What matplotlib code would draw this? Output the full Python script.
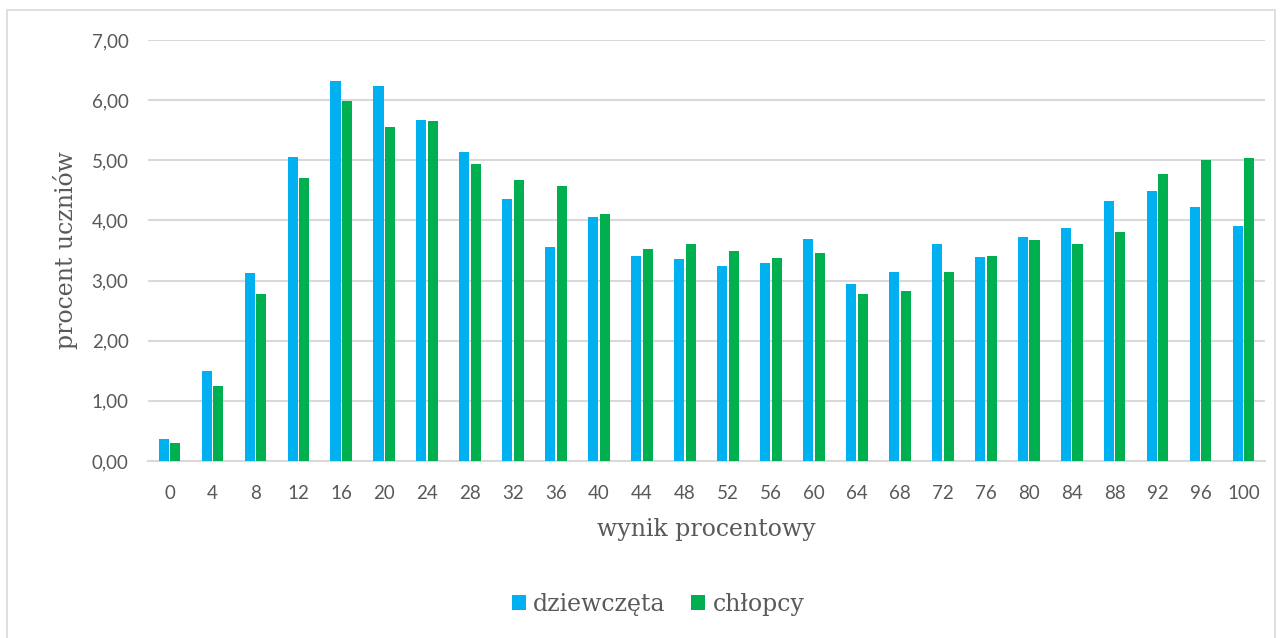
import numpy as np
import matplotlib.pyplot as plt
from matplotlib.patches import Rectangle

# wynik procentowy (x categories)
wyniki = [0, 4, 8, 12, 16, 20, 24, 28, 32, 36, 40, 44, 48, 52, 56, 60,
          64, 68, 72, 76, 80, 84, 88, 92, 96, 100]

dziewczeta = [0.36, 1.49, 3.13, 5.06, 6.31, 6.23, 5.67, 5.13, 4.35, 3.55,
              4.05, 3.41, 3.36, 3.24, 3.30, 3.69, 2.95, 3.14, 3.61, 3.39,
              3.73, 3.87, 4.33, 4.49, 4.22, 3.91]
chlopcy = [0.30, 1.24, 2.77, 4.71, 5.99, 5.56, 5.65, 4.93, 4.67, 4.57,
           4.11, 3.52, 3.60, 3.50, 3.38, 3.46, 2.78, 2.82, 3.14, 3.41,
           3.67, 3.60, 3.80, 4.78, 5.00, 5.04]

blue = '#00B0F0'
green = '#00B050'
grid_col = '#D9D9D9'
txt_col = '#595959'
serif = 'DejaVu Serif'

fig = plt.figure(figsize=(12.82, 6.38), dpi=100)
ax = fig.add_axes([148 / 1282, 1 - 461 / 638, (1265 - 148) / 1282, (461 - 40) / 638])

# outer chart border
fig.patches.append(Rectangle((7 / 1282, -0.01), 1268 / 1282, 1 - 10 / 638 + 0.01,
                             transform=fig.transFigure, fill=False,
                             edgecolor='#D9D9D9', lw=1.2))

x = np.arange(len(wyniki))
w = 0.235
ax.bar(x - 0.135, dziewczeta, w, color=blue, label='dziewczęta', zorder=3)
ax.bar(x + 0.135, chlopcy, w, color=green, label='chłopcy', zorder=3)

ax.set_xlim(-0.5, len(wyniki) - 0.5)
ax.set_ylim(0, 7)
ax.set_yticks(np.arange(0, 8, 1))
ax.set_yticklabels([f'{v:.2f}'.replace('.', ',') for v in range(8)])
ax.set_xticks(x)
ax.set_xticklabels([str(v) for v in wyniki])

ax.yaxis.grid(True, color=grid_col, lw=1.5, zorder=0)
ax.set_axisbelow(True)
for s in ['top', 'right', 'left']:
    ax.spines[s].set_visible(False)
ax.spines['bottom'].set_color(grid_col)
ax.spines['bottom'].set_linewidth(1.5)
ax.tick_params(length=0, labelsize=13.5, labelcolor=txt_col)
ax.tick_params(axis='x', pad=17)
ax.tick_params(axis='y', pad=14)
for lab in ax.get_xticklabels() + ax.get_yticklabels():
    lab.set_family('Lato')

ax.set_xlabel('wynik procentowy', fontsize=17, family=serif, color=txt_col, labelpad=12)
ax.set_ylabel('procent uczniów', fontsize=17, family=serif, color=txt_col, labelpad=10)

fig.legend(loc='center', bbox_to_anchor=(658 / 1282, 1 - 604 / 638), ncol=2,
           frameon=False, prop={'family': serif, 'size': 17}, labelcolor=txt_col,
           handlelength=0.6, handleheight=0.6, handletextpad=0.3, columnspacing=1.1)

fig.savefig('out.png', dpi=100)
